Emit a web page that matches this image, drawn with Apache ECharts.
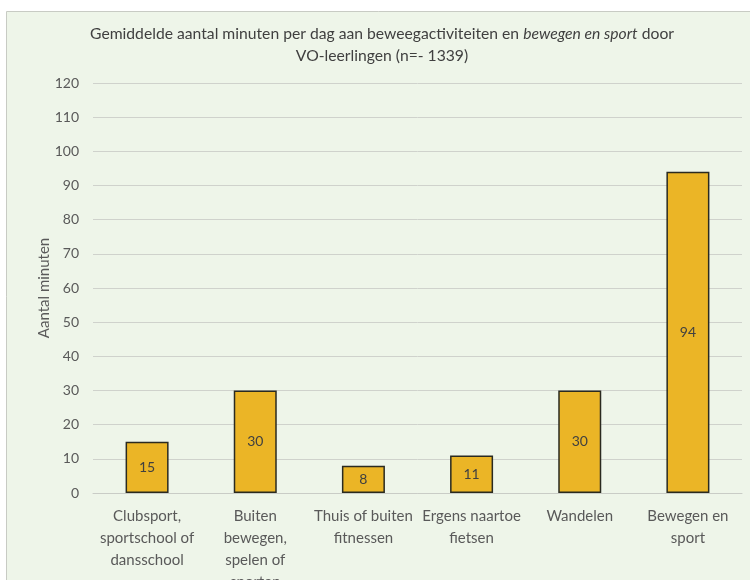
<!DOCTYPE html>
<html>
<head>
<meta charset="utf-8">
<script src="https://cdn.jsdelivr.net/npm/echarts@6/dist/echarts.min.js"></script>
<style>
  html, body { margin: 0; padding: 0; background: #ffffff; overflow: hidden; }
  #chart { width: 750px; height: 580px; }
</style>
</head>
<body>
<div id="chart"></div>
<script>
// Activities (x-axis categories)
const categories = [
  'Clubsport,\nsportschool of\ndansschool',
  'Buiten\nbewegen,\nspelen of\nsporten',
  'Thuis of buiten\nfitnessen',
  'Ergens naartoe\nfietsen',
  'Wandelen',
  'Bewegen en\nsport'
];

// Average minutes per day
const minutes = [15, 30, 8, 11, 30, 94];

// Value axis range
const yMin = 0;
const yMax = 120;
const yStep = 10;

const FONT = 'Lato';
const TEXT = '#595959';

const chart = echarts.init(document.getElementById('chart'), null, { renderer: 'canvas', width: 750, height: 580 });

chart.setOption({
  backgroundColor: '#ffffff',
  textStyle: { fontFamily: FONT },
  graphic: [
    {
      type: 'rect',
      z: -10,
      silent: true,
      shape: { x: 6.5, y: 11.5, width: 760, height: 590 },
      style: { fill: '#eef5e9', stroke: '#c8cbc4', lineWidth: 1 }
    }
  ],
  title: {
    left: 377,
    textAlign: 'center',
    top: 18,
    text: '{n|Gemiddelde aantal minuten per dag aan beweegactiviteiten en }{i|bewegen en sport}{n| door}\n{n|VO-leerlingen (n=- 1339)}',
    textStyle: {
      fontWeight: 'normal',
      rich: {
        n: { fontFamily: FONT, fontSize: 15.7, fontWeight: 'normal', color: '#404040', lineHeight: 22 },
        i: { fontFamily: FONT, fontSize: 15.7, fontWeight: 'normal', color: '#404040', fontStyle: 'italic', lineHeight: 22 }
      }
    }
  },
  grid: { left: 93, top: 83, width: 649, height: 410, containLabel: false, outerBoundsMode: 'none' },
  xAxis: {
    type: 'category',
    data: categories,
    axisLine: { show: true, lineStyle: { color: '#c9ccc6', width: 1 } },
    axisTick: { show: false },
    axisLabel: {
      interval: 0,
      color: TEXT,
      fontFamily: FONT,
      fontSize: 15,
      lineHeight: 22,
      margin: 12
    }
  },
  yAxis: {
    type: 'value',
    min: yMin,
    max: yMax,
    interval: yStep,
    name: 'Aantal minuten',
    nameLocation: 'middle',
    nameRotate: 90,
    nameGap: 41,
    nameMoveOverlap: false,
    nameTextStyle: { color: TEXT, fontFamily: FONT, fontSize: 15 },
    axisLine: { show: false },
    axisTick: { show: false },
    axisLabel: { color: TEXT, fontFamily: FONT, fontSize: 14, margin: 14 },
    splitLine: { lineStyle: { color: '#cfd2cc', width: 1 } }
  },
  series: [
    {
      type: 'bar',
      data: minutes,
      barWidth: 43,
      itemStyle: { color: '#ebb526', borderColor: '#2a2a20', borderWidth: 1.5 },
      label: {
        show: true,
        position: 'inside',
        color: '#404040',
        fontFamily: FONT,
        fontSize: 14
      }
    }
  ]
});
</script>
</body>
</html>
